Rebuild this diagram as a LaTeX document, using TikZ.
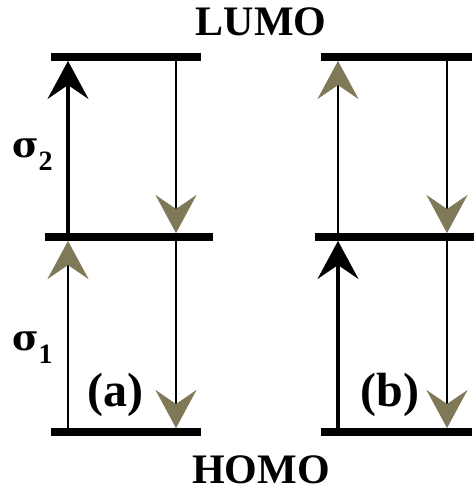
\documentclass[tikz,border=0pt]{standalone}
\usepackage{fontspec}
\setmainfont{Liberation Serif}
\newfontfamily\sigfont{DejaVu Serif}
\usetikzlibrary{arrows.meta}
\definecolor{olivetip}{RGB}{128,121,88}
\tikzset{
  level/.style={line width=8.5pt},
  thinline/.style={line width=1.8pt},
  thickline/.style={line width=4.5pt},
  olivehead/.style={-{Stealth[length=38pt,width=41pt,inset=14pt,line width=0.5pt,color=olivetip]}},
  blackhead/.style={-{Stealth[length=38pt,width=41pt,inset=14pt,line width=0.5pt,color=black]}},
  lbl/.style={font=\bfseries\fontsize{42}{48}\selectfont, inner sep=0pt, anchor=base},
  tag/.style={font=\bfseries\fontsize{48}{54}\selectfont, inner sep=0pt, anchor=base},
  sig/.style={font=\bfseries\fontsize{36}{44}\selectfont, inner sep=0pt, anchor=base west}
}
\begin{document}
\begin{tikzpicture}[x=1pt,y=-1pt]
\useasboundingbox (0,0) rectangle (474,493);
% level coordinates
\coordinate (aT1) at (51,57);  \coordinate (aT2) at (201,57);
\coordinate (aM1) at (45,237); \coordinate (aM2) at (213,237);
\coordinate (aB1) at (51,432); \coordinate (aB2) at (201,432);
\coordinate (bT1) at (321,57); \coordinate (bT2) at (472,57);
\coordinate (bM1) at (315,237);\coordinate (bM2) at (474,237);
\coordinate (bB1) at (321,432);\coordinate (bB2) at (472,432);
% arrow end points
\coordinate (aLt) at (68,61);  \coordinate (aLmT) at (68,233); \coordinate (aLmB) at (68,241); \coordinate (aLb) at (68,428);
\coordinate (aRt) at (176,61); \coordinate (aRmT) at (176,233); \coordinate (aRmB) at (176,241); \coordinate (aRb) at (176,428);
\coordinate (bLt) at (338,61); \coordinate (bLmT) at (338,233); \coordinate (bLmB) at (338,241); \coordinate (bLb) at (338,428);
\coordinate (bRt) at (447,61); \coordinate (bRmT) at (447,233); \coordinate (bRmB) at (447,241); \coordinate (bRb) at (447,428);
% levels
\draw[level] (aT1) -- (aT2);
\draw[level] (aM1) -- (aM2);
\draw[level] (aB1) -- (aB2);
\draw[level] (bT1) -- (bT2);
\draw[level] (bM1) -- (bM2);
\draw[level] (bB1) -- (bB2);
% (a)
\draw[thickline,blackhead] (aLmT) -- (aLt);
\draw[thinline,olivehead] (aLb) -- (aLmB);
\draw[thinline,olivehead] (aRt) -- (aRmT);
\draw[thinline,olivehead] (aRmB) -- (aRb);
% (b)
\draw[thinline,olivehead] (bLmT) -- (bLt);
\draw[thickline,blackhead] (bLb) -- (bLmB);
\draw[thinline,olivehead] (bRt) -- (bRmT);
\draw[thinline,olivehead] (bRmB) -- (bRb);
% labels
\node[lbl] (lumo) at (261,35) {LUMO};
\node[lbl] (homo) at (261,483) {HOMO};
\node[tag] (taga) at (115,406) {(a)};
\node[tag] (tagb) at (390,406) {(b)};
\node[sig] (sig2) at (12,157) {{\sigfont σ}\raisebox{-13pt}{\fontsize{28}{28}\selectfont 2}};
\node[sig] (sig1) at (12,350) {{\sigfont σ}\raisebox{-13pt}{\fontsize{28}{28}\selectfont 1}};
\end{tikzpicture}
\end{document}
